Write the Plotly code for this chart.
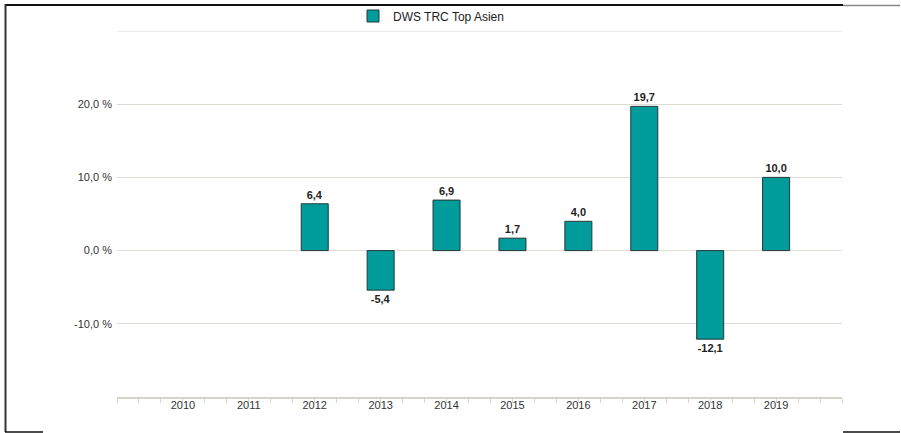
import plotly.graph_objects as go

years = [2010, 2011, 2012, 2013, 2014, 2015, 2016, 2017, 2018, 2019]
returns = [None, None, 6.4, -5.4, 6.9, 1.7, 4.0, 19.7, -12.1, 10.0]
series_name = "DWS TRC Top Asien"
y_tickvals = [-10, 0, 10, 20, 30]
y_ticktext = ["-10,0 %", "0,0 %", "10,0 %", "20,0 %", ""]

W, H = 901, 433
L, R, T, B = 117, 59, 31, 36
pw, ph = W - L - R, H - T - B

def px(x):
    return (x - L) / pw

def py(y):
    return (H - B - y) / ph

fig = go.Figure()
fig.add_trace(go.Bar(
    x=years, y=returns, name=series_name, width=0.41,
    marker=dict(color="#009c9c", line=dict(color="#243838", width=1)),
    texttemplate="%{y:.1f}", textposition="outside", cliponaxis=False,
    textfont=dict(family="Liberation Sans", size=11, color="#222222", weight="bold"),
    showlegend=True,
))

grid = "#dedcd3"
fig.update_layout(
    width=W, height=H,
    margin=dict(l=L, r=R, t=T, b=B, autoexpand=False),
    paper_bgcolor="white", plot_bgcolor="white",
    separators=",.",
    font=dict(family="Liberation Sans", size=11, color="#333333"),
    showlegend=True,
    legend=dict(orientation="v", x=px(353), xanchor="left", y=py(16), yanchor="middle",
                font=dict(size=12, color="#222222"), bgcolor="rgba(0,0,0,0)"),
    xaxis=dict(range=[2009, 2020], tickvals=years, ticktext=[str(y) for y in years],
               showgrid=False, zeroline=False, showline=True, linecolor="#d6d3c8", linewidth=2,
               ticks="", ticklabelstandoff=-3,
               minor=dict(tick0=2009, dtick=1/3, ticks="outside", ticklen=4,
                          tickcolor="#d6d3c8", tickwidth=1, showgrid=False),
               tickfont=dict(size=11, color="#333333")),
    yaxis=dict(range=[-20, 30], tickvals=y_tickvals, ticktext=y_ticktext,
               showgrid=True, gridcolor=grid, gridwidth=1, zeroline=False,
               showline=False, ticks="", ticklabelstandoff=4,
               tickfont=dict(size=11, color="#333333")),
    bargap=0.5,
)

black = "#111111"
gray = "#888888"
shapes = [
    dict(x0=px(5), x1=px(843), y0=py(5), y1=py(5), color=black, w=2),
    dict(x0=px(843), x1=px(900), y0=py(5.5), y1=py(5.5), color=gray, w=1.5),
    dict(x0=px(5.5), x1=px(5.5), y0=py(4), y1=py(432), color="#333333", w=2),
    dict(x0=px(5), x1=px(43), y0=py(432), y1=py(432), color=black, w=1.5),
    dict(x0=px(843), x1=px(900), y0=py(432), y1=py(432), color=black, w=1.5),
]
for s in shapes:
    fig.add_shape(type="line", xref="paper", yref="paper", layer="above",
                  x0=s["x0"], x1=s["x1"], y0=s["y0"], y1=s["y1"],
                  line=dict(color=s["color"], width=s["w"]))

# top gridline at 30 % (the range edge) drawn explicitly
fig.add_shape(type="line", xref="paper", yref="y", x0=0, x1=1, y0=30, y1=30,
              line=dict(color=grid, width=1), layer="below")

fig.write_html("out.html", config={"displayModeBar": False},
               post_script="document.body.style.margin='0';")
